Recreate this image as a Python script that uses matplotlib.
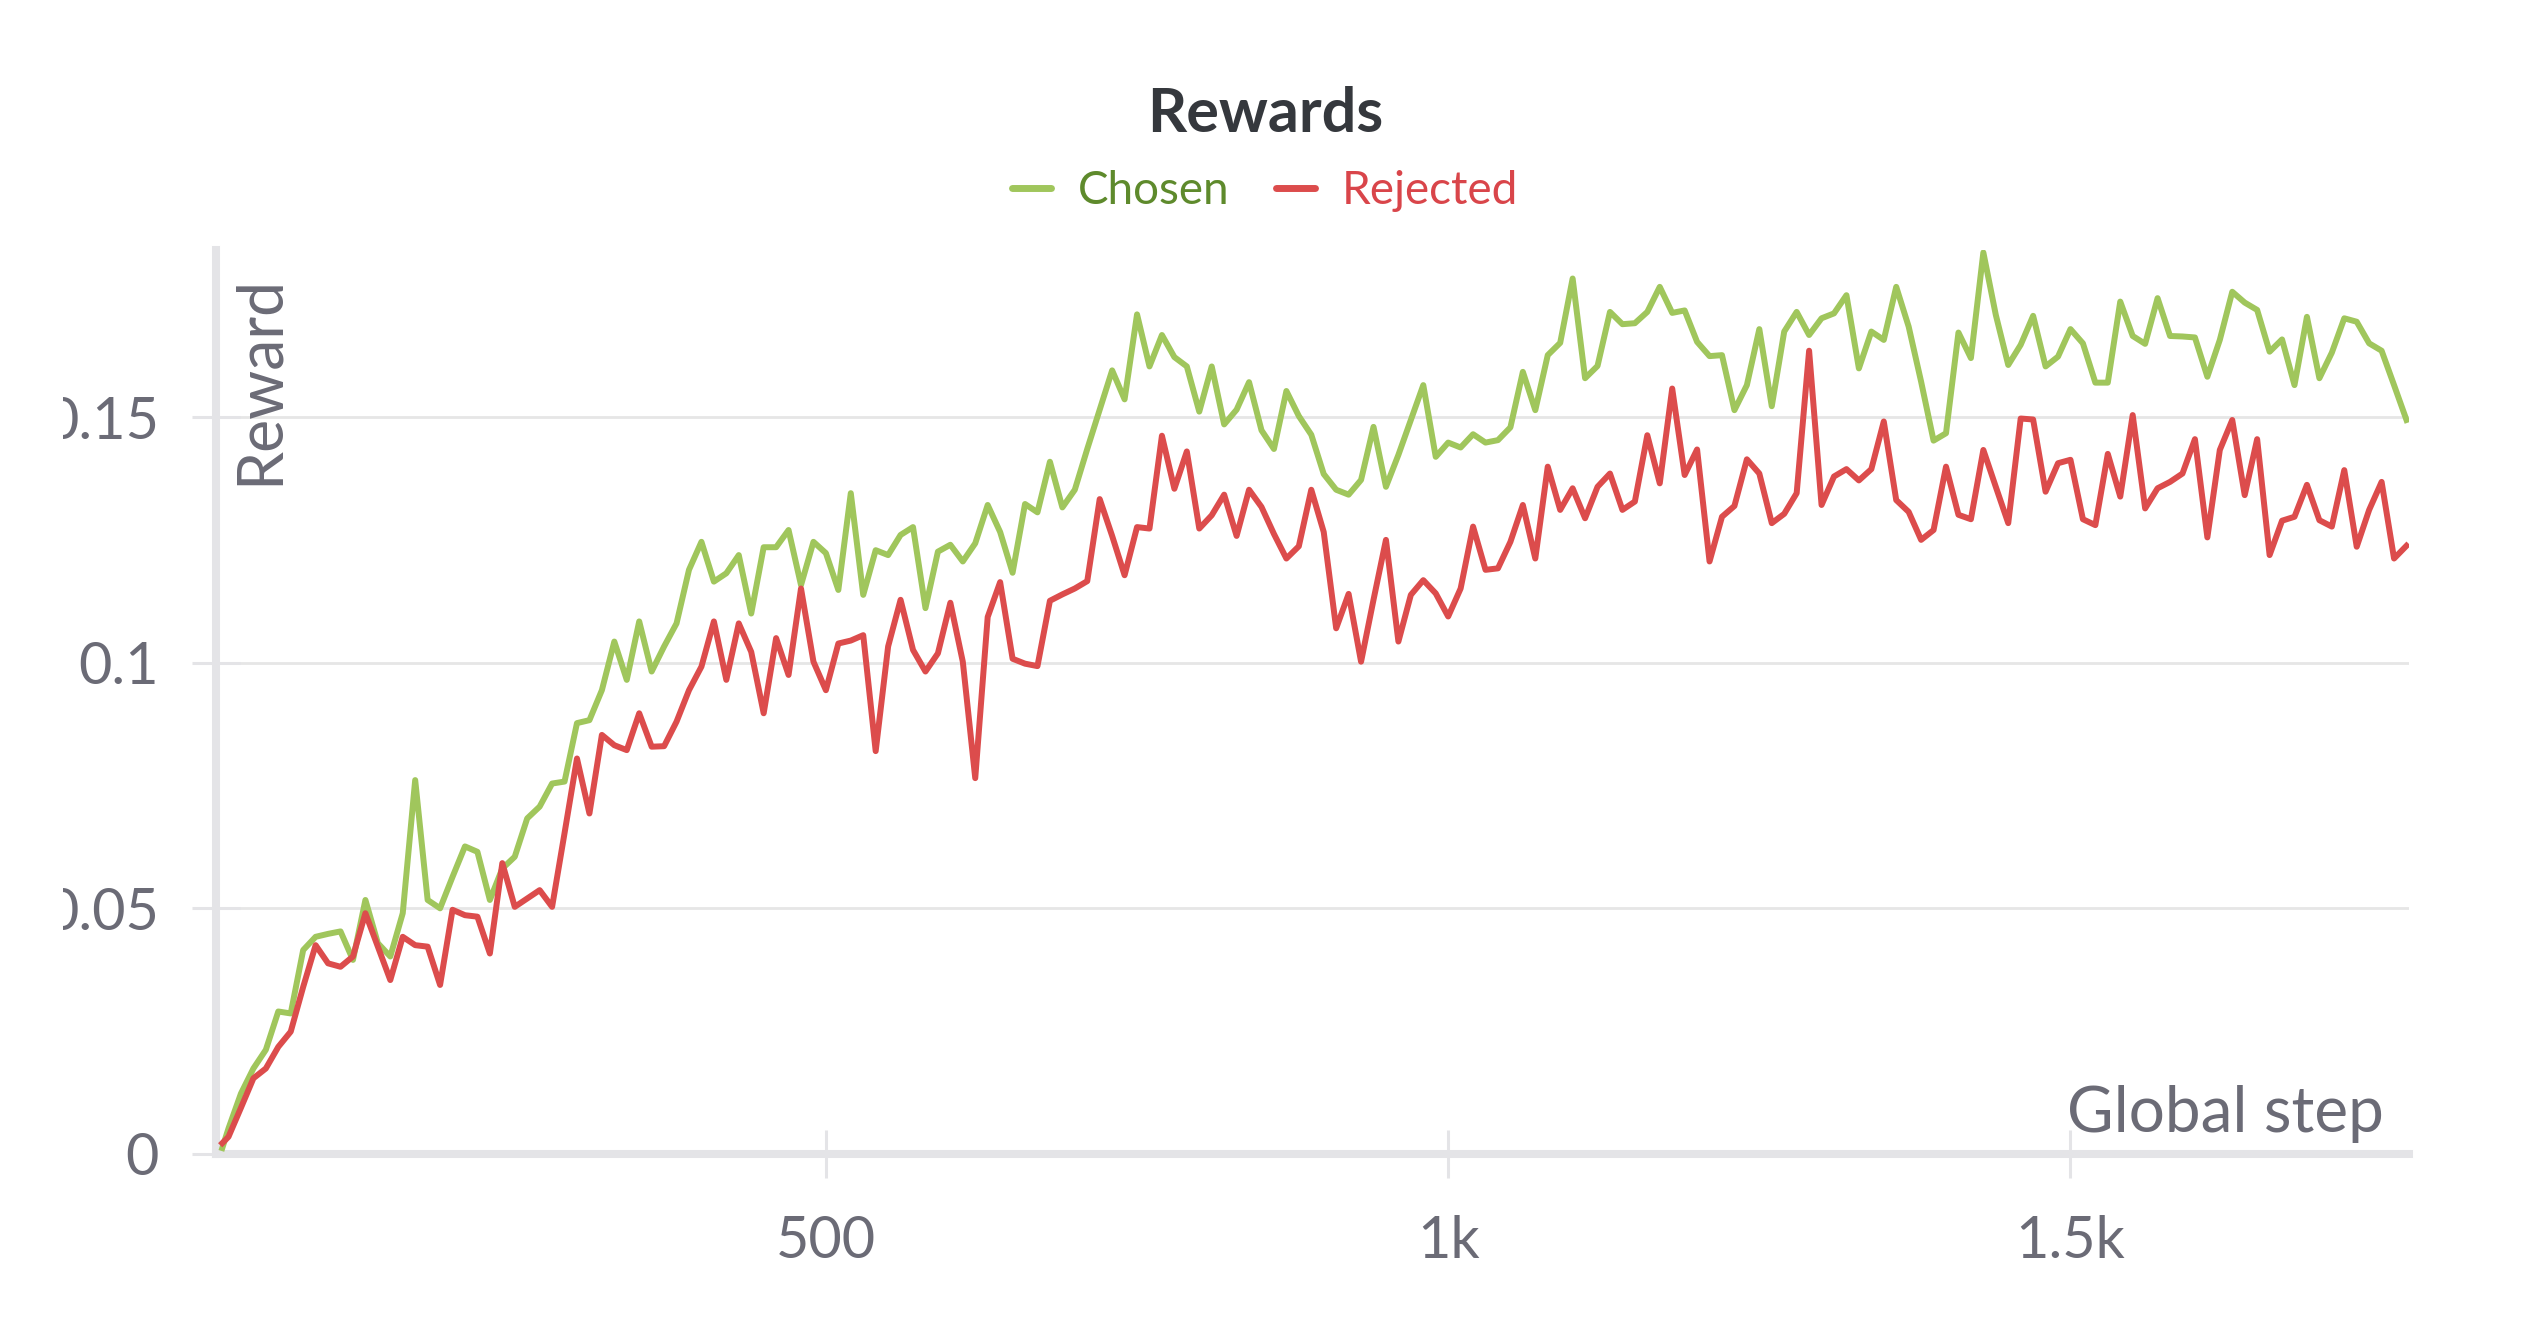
import numpy as np
import matplotlib.pyplot as plt
from matplotlib.lines import Line2D
from matplotlib.patches import Rectangle

plt.rcParams['font.family'] = ['Lato', 'DejaVu Sans']

# values, one point every 10 steps (first point is a partial step)
chosen = [
    0.0012,
    0.0052, 0.0123, 0.0174, 0.0212, 0.0290, 0.0286, 0.0415, 0.0442, 0.0448, 0.0453,
    0.0395, 0.0517, 0.0429, 0.0402, 0.0490, 0.0761, 0.0517, 0.0500, 0.0564, 0.0626,
    0.0615, 0.0517, 0.0581, 0.0605, 0.0683, 0.0707, 0.0754, 0.0758, 0.0877, 0.0883,
    0.0944,
    0.1043, 0.0965, 0.1084, 0.0982, 0.1033, 0.1080, 0.1189, 0.1246, 0.1165, 0.1182,
    0.1219, 0.1100, 0.1235, 0.1235, 0.1270, 0.1158, 0.1246, 0.1223, 0.1148, 0.1345,
    0.1138, 0.1229, 0.1219, 0.1260, 0.1276, 0.1111, 0.1226, 0.1240, 0.1206, 0.1243,
    0.1321, 0.1266, 0.1183, 0.1323, 0.1306, 0.1409, 0.1316, 0.1352, 0.1435, 0.1515,
    0.1595, 0.1536, 0.1709, 0.1603, 0.1667, 0.1622, 0.1603, 0.1511, 0.1603, 0.1485,
    0.1515, 0.1571, 0.1473, 0.1435, 0.1553, 0.1502, 0.1464, 0.1384, 0.1352, 0.1342,
    0.1372, 0.1480, 0.1358, 0.1423, 0.1494, 0.1565, 0.1419, 0.1448, 0.1438, 0.1465,
    0.1448, 0.1453, 0.1479, 0.1592, 0.1514, 0.1626, 0.1651, 0.1782, 0.1579, 0.1604,
    0.1714, 0.1689, 0.1691, 0.1714, 0.1765, 0.1712, 0.1717, 0.1653, 0.1624, 0.1626,
    0.1514, 0.1565, 0.1679, 0.1522, 0.1674, 0.1714, 0.1667, 0.1701, 0.1711, 0.1748,
    0.1599, 0.1674, 0.1657, 0.1765, 0.1684, 0.1572, 0.1452, 0.1467, 0.1672, 0.1620,
    0.1835, 0.1708, 0.1606, 0.1647, 0.1706, 0.1603, 0.1623, 0.1679, 0.1650,
    0.1570, 0.1570, 0.1735, 0.1665, 0.1649, 0.1742, 0.1665, 0.1664, 0.1662, 0.1582,
    0.1657, 0.1755, 0.1733, 0.1718, 0.1633, 0.1658, 0.1565, 0.1704, 0.1579, 0.1631,
    0.1701, 0.1694, 0.1650, 0.1635, 0.1565, 0.1494,
]

rejected = [
    0.0022,
    0.0035, 0.0094, 0.0154, 0.0174, 0.0218, 0.0249, 0.0340, 0.0425, 0.0388, 0.0381,
    0.0402, 0.0490, 0.0422, 0.0354, 0.0442, 0.0425, 0.0422, 0.0344, 0.0497, 0.0486,
    0.0483, 0.0408, 0.0592, 0.0503, 0.0520, 0.0537, 0.0503, 0.0653, 0.0805, 0.0693,
    0.0853,
    0.0832, 0.0822, 0.0897, 0.0829, 0.0830, 0.0880, 0.0944, 0.0992, 0.1084, 0.0965,
    0.1080, 0.1022, 0.0897, 0.1050, 0.0975, 0.1151, 0.1002, 0.0944, 0.1039, 0.1045,
    0.1056, 0.0820, 0.1033, 0.1128, 0.1026, 0.0982, 0.1019, 0.1122, 0.1002, 0.0765,
    0.1093, 0.1164, 0.1008, 0.0998, 0.0993, 0.1126, 0.1139, 0.1151, 0.1166, 0.1333,
    0.1258, 0.1178, 0.1276, 0.1273, 0.1462, 0.1354, 0.1430, 0.1273, 0.1300, 0.1342,
    0.1258, 0.1352, 0.1317, 0.1262, 0.1212, 0.1237, 0.1352, 0.1266, 0.1070, 0.1140,
    0.1002, 0.1128, 0.1250, 0.1043, 0.1138, 0.1168, 0.1141, 0.1094, 0.1151, 0.1277,
    0.1189, 0.1192, 0.1246, 0.1321, 0.1212, 0.1399, 0.1311, 0.1355, 0.1294, 0.1358,
    0.1385, 0.1311, 0.1328, 0.1463, 0.1365, 0.1558, 0.1382, 0.1434, 0.1206, 0.1297,
    0.1319, 0.1414, 0.1385, 0.1284, 0.1303, 0.1345, 0.1635, 0.1321, 0.1379, 0.1394,
    0.1371, 0.1394, 0.1491, 0.1331, 0.1307, 0.1250, 0.1270, 0.1399, 0.1301, 0.1292,
    0.1433, 0.1358, 0.1284, 0.1497, 0.1495, 0.1348, 0.1406, 0.1413, 0.1292,
    0.1280, 0.1425, 0.1338, 0.1504, 0.1314, 0.1355, 0.1368, 0.1385, 0.1455, 0.1255,
    0.1433, 0.1494, 0.1341, 0.1455, 0.1219, 0.1289, 0.1297, 0.1362, 0.1290, 0.1277,
    0.1392, 0.1236, 0.1311, 0.1368, 0.1212, 0.1238,
]

steps = np.r_[15, 20 + 10 * np.arange(len(chosen) - 1)]

xtick_vals = [500, 1000, 1500]
xtick_labels = ['500', '1k', '1.5k']
ytick_vals = [0, 0.05, 0.1, 0.15]
ytick_labels = ['0', '0.05', '0.1', '0.15']

GREEN = '#a0c65c'
RED = '#dc4c4c'
GREEN_TXT = '#5e8a2c'
RED_TXT = '#d9454a'
AXIS_GRAY = '#e4e4e7'
TEXT_GRAY = '#6b6b76'

fig = plt.figure(figsize=(25.27, 13.27), dpi=100)
ax = fig.add_axes([0.0855, 0.1304, 0.8678, 0.6812])

ax.plot(steps, chosen, color=GREEN, lw=4.3, zorder=3)
ax.plot(steps, rejected, color=RED, lw=4.3, zorder=4)

ax.set_xlim(10, 1772)
ax.set_ylim(0, 0.184)
ax.set_xticks(xtick_vals, xtick_labels)
ax.set_yticks(ytick_vals, ytick_labels)

ax.grid(axis='y', color='#e6e6e6', lw=2)
ax.set_axisbelow(True)
for s in ['top', 'right']:
    ax.spines[s].set_visible(False)
for s in ['left', 'bottom']:
    ax.spines[s].set_color(AXIS_GRAY)
    ax.spines[s].set_linewidth(5.8)

ax.tick_params(direction='inout', length=34, width=2.2, color=AXIS_GRAY,
               labelsize=41.5, labelcolor=TEXT_GRAY)
ax.tick_params(axis='x', pad=27)
ax.tick_params(axis='y', pad=24)

ax.text(0.020, 0.972, 'Reward', rotation=90, ha='center', va='top',
        transform=ax.transAxes, fontsize=45, color=TEXT_GRAY)
ax.text(0.9886, 0.0243, 'Global step', ha='right', va='baseline',
        transform=ax.transAxes, fontsize=46, color=TEXT_GRAY)

fig.text(0.5006, 0.9005, 'Rewards', ha='center', va='baseline',
         fontsize=44, fontweight='bold', color='#35383d')

handles = [Line2D([], [], color=GREEN, lw=5, solid_capstyle='round'),
           Line2D([], [], color=RED, lw=5, solid_capstyle='round')]
leg = fig.legend(handles, ['Chosen', 'Rejected'], loc='center',
                 bbox_to_anchor=(0.5006, 1 - 191 / 1327), ncol=2, frameon=False,
                 fontsize=33, handlelength=0.85, handletextpad=0.6,
                 columnspacing=1.0)
for txt, c in zip(leg.get_texts(), [GREEN_TXT, RED_TXT]):
    txt.set_color(c)

# the original crops the tick label column on the left
fig.add_artist(Rectangle((0, 0), 63 / 2527, 1, transform=fig.transFigure,
                         facecolor='white', edgecolor='none', zorder=10))

fig.savefig('out.png', dpi=100)
